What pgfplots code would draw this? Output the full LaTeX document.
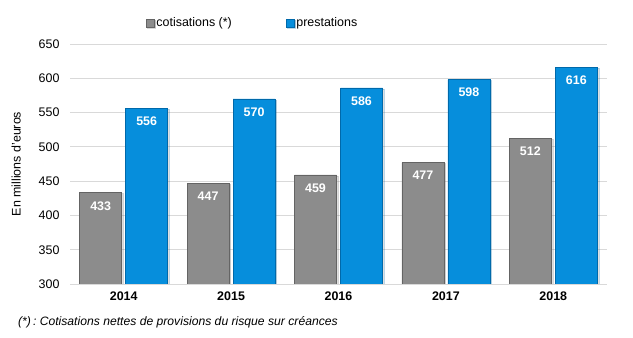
\documentclass[border=0pt]{standalone}
\usepackage{pgfplots}
\pgfplotsset{compat=1.18}
\usetikzlibrary{shadows}
\usepackage{fontspec}
\setmainfont{Liberation Sans}
\definecolor{cgray}{RGB}{140,140,140}
\definecolor{cgrayd}{RGB}{100,100,100}
\definecolor{cblue}{RGB}{6,142,220}
\definecolor{cblued}{RGB}{0,105,170}
\definecolor{gridc}{RGB}{217,217,217}
\begin{document}
\begin{tikzpicture}
\path[use as bounding box] (0,0) rectangle (633bp,338bp);
\begin{axis}[
  at={(70bp,54bp)}, anchor=south west,
  scale only axis, width=537bp, height=240bp,
  ybar=4bp, bar width=42bp,
  xmin=-0.5, xmax=4.5, ymin=300, ymax=650,
  xtick=data, xticklabels={2014,2015,2016,2017,2018},
  xticklabel style={font=\fontsize{12.5}{14}\selectfont\bfseries, yshift=-4bp},
  ytick={300,350,...,650},
  yticklabel style={font=\fontsize{12.5}{14}\selectfont, xshift=-7bp},
  /pgf/number format/assume math mode=true,
  /pgf/number format/1000 sep={},
  ymajorgrids, grid style={gridc, line width=0.8bp},
  major tick length=0pt,
  axis y line*=left, y axis line style={draw=none},
  axis x line*=bottom, x axis line style={draw=gridc, line width=0.8bp},
  ylabel={En millions d'euros},
  every axis y label/.style={at={(axis description cs:-0.100,0.5)}, rotate=90, anchor=center, font=\fontsize{12.5}{14}\selectfont},
  nodes near coords,
  every node near coord/.append style={font=\fontsize{12.5}{14}\selectfont\bfseries, white, anchor=north, yshift=-5bp},
  legend columns=2,
  legend style={draw=none, fill=none, at={(0.34,1.088)}, anchor=center,
    font=\fontsize{12.5}{14}\selectfont, /tikz/every even column/.append style={column sep=52bp}},
  legend image code/.code={\draw[#1, line width=0.5bp] (0bp,-4bp) rectangle (8bp,4bp);},
]
\addplot[fill=cgray, draw=cgrayd, line width=0.6bp, drop shadow={shadow xshift=1.5bp, shadow yshift=-1bp, opacity=0.25}] coordinates {(0,433) (1,447) (2,459) (3,477) (4,512)};
\addplot[fill=cblue, draw=cblued, line width=0.6bp, drop shadow={shadow xshift=1.5bp, shadow yshift=-1bp, opacity=0.25}] coordinates {(0,556) (1,570) (2,586) (3,598) (4,616)};
\legend{cotisations (*), prestations}
\end{axis}
\node[anchor=west, font=\fontsize{12.2}{14}\selectfont\itshape, inner sep=0pt] at (18bp,16bp) {(*)\,:\ Cotisations nettes de provisions du risque sur créances};
\end{tikzpicture}
\end{document}
